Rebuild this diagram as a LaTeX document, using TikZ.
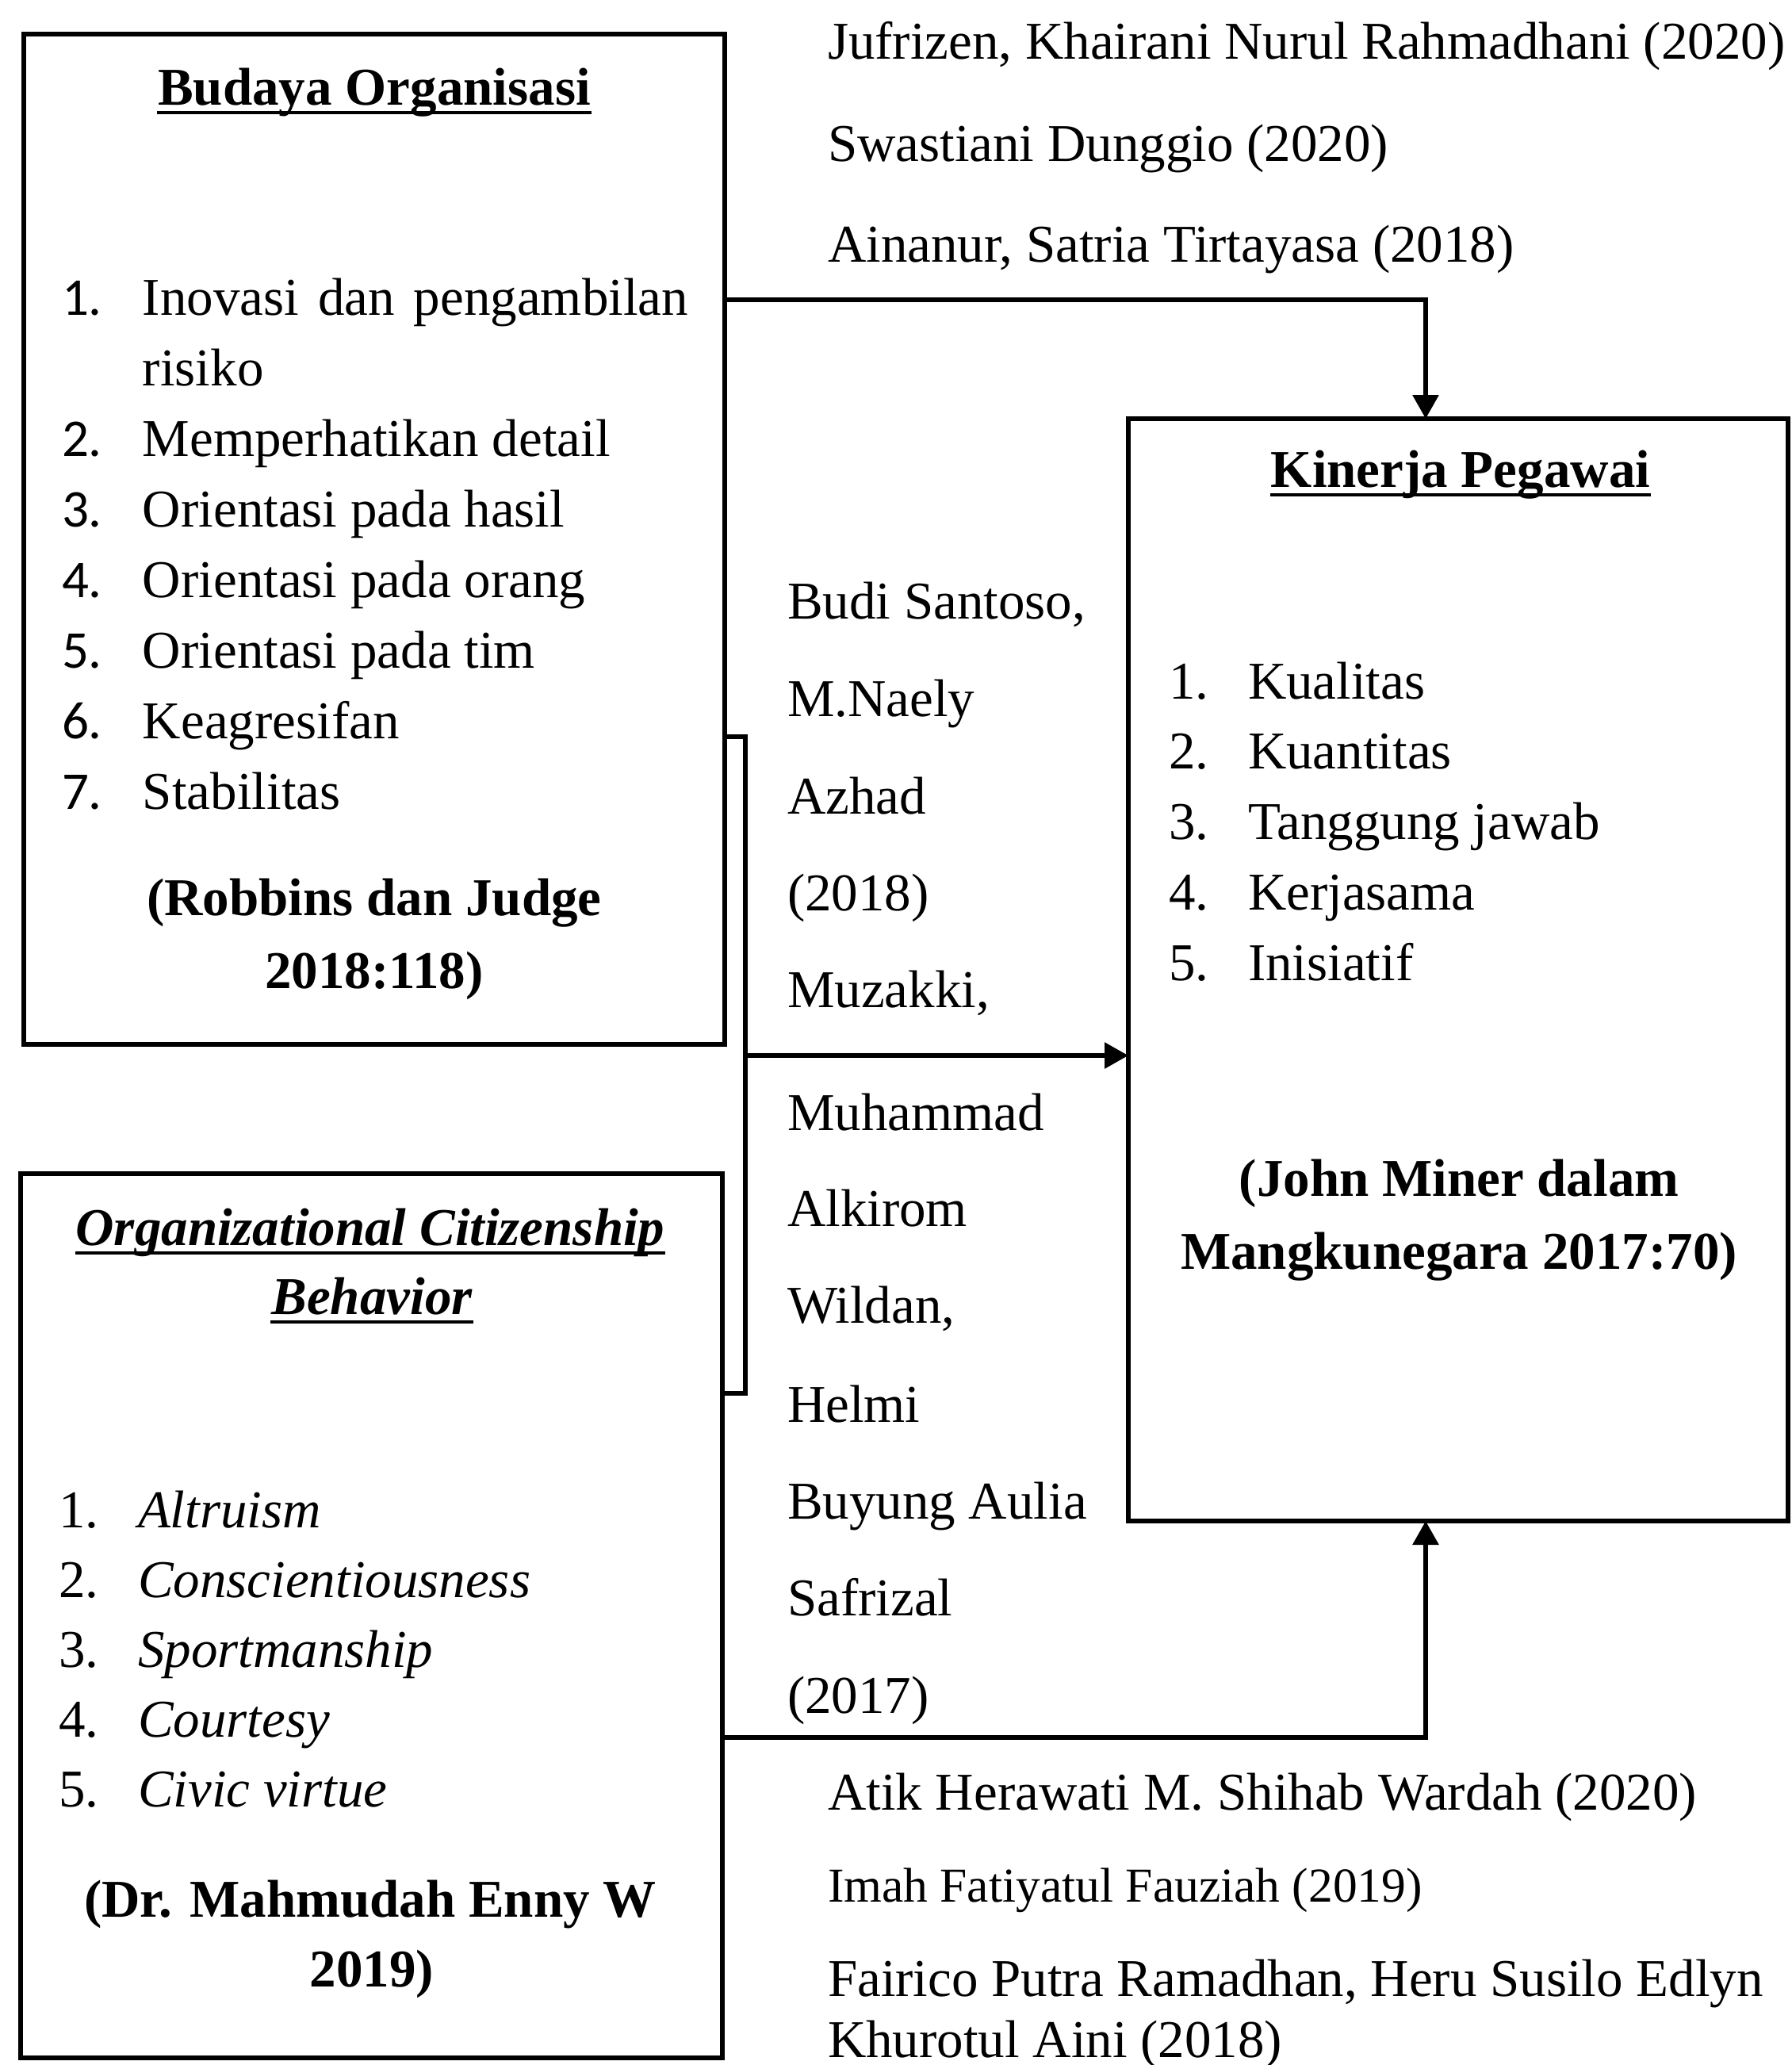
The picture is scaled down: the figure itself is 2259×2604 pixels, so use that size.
\documentclass[tikz,border=0pt]{standalone}
\usepackage{fontspec}
\setmainfont{Liberation Serif}
\newfontfamily\calibfont{Carlito}
\usetikzlibrary{arrows.meta}
\newcommand\myfs{\fontsize{13.4pt}{16pt}\selectfont}
\newcommand\mysmallfs{\fontsize{12.3pt}{15pt}\selectfont}
\begin{document}
\begin{tikzpicture}[x=0.2pt,y=-0.2pt,
  box/.style={draw, line width=1.3pt, inner sep=0pt, outer sep=0pt, anchor=north west},
  conn/.style={line width=1.2pt},
  tip/.style={-{Triangle[length=6pt,width=6.4pt]}},
  txt/.style={anchor=base west, inner sep=0pt, font=\myfs},
  ctr/.style={anchor=base, inner sep=0pt, font=\myfs\bfseries},
  num/.style={anchor=base west, inner sep=0pt, font=\myfs},
  ul/.style={line width=0.75pt}]
\fill[white] (0,0) rectangle (2259,2604);
\useasboundingbox (0,0) rectangle (2259,2604);

% ---------- boxes ----------
\node[box, minimum width=176.8pt, minimum height=254.8pt] (bo) at (30,43) {};
\node[box, minimum width=166.4pt, minimum height=278pt] (kp) at (1423,528) {};
\node[box, minimum width=177pt, minimum height=223pt] (ocb) at (26,1480) {};

% ---------- Budaya Organisasi ----------
\node[ctr] (bot) at (472,132) {Budaya Organisasi};
\draw[ul] ([yshift=-2pt]bot.base west) -- ([yshift=-2pt]bot.base east);
\node[num, font=\myfs\calibfont] (bn1) at (77,397) {1.};
\node[txt] (bt1) at (179,397) {\makebox[137.6pt][s]{Inovasi dan pengambilan}};
\node[txt] (bt1b) at (179,486) {risiko};
\foreach \i/\y/\t in {2/575/{Memperhatikan detail}, 3/664/{Orientasi pada hasil},
  4/753/{Orientasi pada orang}, 5/842/{Orientasi pada tim}, 6/931/{Keagresifan}, 7/1020/{Stabilitas}} {
  \node[num, font=\myfs\calibfont] (bn\i) at (77,\y) {\i.};
  \node[txt] (bt\i) at (179,\y) {\t};
}
\node[ctr] (bc1) at (472,1154) {(Robbins dan Judge};
\node[ctr] (bc2) at (472,1246) {2018:118)};

% ---------- Kinerja Pegawai ----------
\node[ctr] (kt) at (1842,614) {Kinerja Pegawai};
\draw[ul] ([yshift=-2pt]kt.base west) -- ([yshift=-2pt]kt.base east);
\foreach \i/\y/\t in {1/881/{Kualitas}, 2/969/{Kuantitas}, 3/1058/{Tanggung jawab},
  4/1147/{Kerjasama}, 5/1236/{Inisiatif}} {
  \node[num] (kn\i) at (1473,\y) {\i.};
  \node[txt] (kt\i) at (1573,\y) {\t};
}
\node[ctr] (kc1) at (1840,1508) {(John Miner dalam};
\node[ctr] (kc2) at (1840,1600) {Mangkunegara 2017:70)};

% ---------- OCB ----------
\node[ctr, font=\myfs\bfseries\itshape] (ot1) at (467,1570) {Organizational Citizenship};
\draw[ul] ([yshift=-2pt]ot1.base west) -- ([yshift=-2pt]ot1.base east);
\node[ctr, font=\myfs\bfseries\itshape] (ot2) at (469,1657) {Behavior};
\draw[ul] ([yshift=-2pt]ot2.base west) -- ([yshift=-2pt]ot2.base east);
\foreach \i/\y/\t in {1/1926/{Altruism}, 2/2014/{Conscientiousness}, 3/2102/{Sportmanship},
  4/2190/{Courtesy}, 5/2278/{Civic virtue}} {
  \node[num] (on\i) at (73,\y) {\i.};
  \node[txt, font=\myfs\itshape] (ox\i) at (173,\y) {\t};
}
\node[ctr] (oc1) at (467,2417) {(Dr. Mahmudah Enny W};
\node[ctr] (oc2) at (469,2505) {2019)};

% ---------- middle column ----------
\foreach \i/\y/\t in {1/780/{Budi Santoso,}, 2/903/{M.Naely}, 3/1026/{Azhad}, 4/1148/{(2018)},
  5/1270/{Muzakki,}, 6/1425/{Muhammad}, 7/1546/{Alkirom}, 8/1668/{Wildan,}, 9/1793/{Helmi},
  10/1915/{Buyung Aulia}, 11/2037/{Safrizal}, 12/2160/{(2017)}} {
  \node[txt] (m\i) at (992,\y) {\t};
}

% ---------- top references ----------
\node[txt] (r1) at (1043,74) {Jufrizen, Khairani Nurul Rahmadhani (2020)};
\node[txt] (r2) at (1043,203) {Swastiani Dunggio (2020)};
\node[txt] (r3) at (1043,330) {Ainanur, Satria Tirtayasa (2018)};

% ---------- bottom references ----------
\node[txt] (s1) at (1043,2282) {Atik Herawati M. Shihab Wardah (2020)};
\node[txt, font=\mysmallfs] (s2) at (1043,2398) {Imah Fatiyatul Fauziah (2019)};
\node[txt] (s3) at (1043,2517) {Fairico Putra Ramadhan, Heru Susilo Edlyn};
\node[txt] (s4) at (1043,2594) {Khurotul Aini (2018)};

% ---------- connectors ----------
\coordinate (j1) at (1798,378);
\coordinate (b1) at (940,929);
\coordinate (b2) at (940,1757);
\coordinate (b3) at (940,1331);
\coordinate (j2) at (1798,2191);
\draw[conn, tip] (bo.east |- j1) -- (j1) -- (kp.north -| j1);
\draw[conn] (bo.east |- b1) -- (b1) -- (b2) -- (ocb.east |- b2);
\draw[conn, tip] (b3) -- (kp.west |- b3);
\draw[conn, tip] (ocb.east |- j2) -- (j2) -- (kp.south -| j2);
\end{tikzpicture}
\end{document}
